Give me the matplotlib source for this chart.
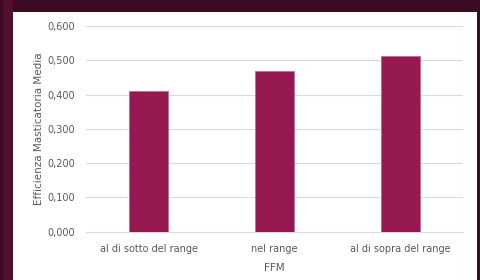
import matplotlib.pyplot as plt
from matplotlib.patches import Rectangle
from matplotlib.ticker import FuncFormatter

categories = ['al di sotto del range', 'nel range', 'al di sopra del range']
values = [0.410, 0.469, 0.513]
yticks = [0.0, 0.1, 0.2, 0.3, 0.4, 0.5, 0.6]

W, H = 481, 280
fig = plt.figure(figsize=(W / 100, H / 100), dpi=100)
fig.patch.set_facecolor('#3c0a22')

# dark frame with slightly lighter left strip, white slide area
fig.patches.append(Rectangle((3 / W, 0), 10 / W, 1, transform=fig.transFigure,
                             facecolor='#510f30', edgecolor='none', zorder=-2))
fig.patches.append(Rectangle((13 / W, 0), (477 - 13) / W, (H - 12) / H,
                             transform=fig.transFigure, facecolor='white',
                             edgecolor='none', zorder=-1))

ax = fig.add_axes([86 / W, (H - 231.7) / H, (463 - 86) / W, (231.7 - 26) / H])
ax.set_zorder(2)
ax.set_facecolor('none')

ax.bar(range(len(categories)), values, width=0.31, color='#951850',
       edgecolor='#c06a90', linewidth=0.6, zorder=3)

ax.set_xlim(-0.5, 2.5)
ax.set_ylim(0, 0.6)
ax.set_yticks(yticks)
ax.yaxis.set_major_formatter(FuncFormatter(lambda v, p: f'{v:.3f}'.replace('.', ',')))
ax.set_xticks(range(len(categories)))
ax.set_xticklabels(categories)
ax.grid(axis='y', color='#d9d9d9', linewidth=0.8, zorder=0)
for s in ax.spines.values():
    s.set_visible(False)
ax.spines['bottom'].set_visible(True)
ax.spines['bottom'].set_color('#d9d9d9')
ax.tick_params(length=0, labelsize=7, colors='#595959', pad=8)
ax.tick_params(axis='x', pad=8.5)

ax.set_ylabel('Efficienza Masticatoria Media', fontsize=7.5, color='#595959', labelpad=2.5)
ax.set_xlabel('FFM', fontsize=7.5, color='#595959', labelpad=7)

plt.savefig('out.png', dpi=100, facecolor=fig.get_facecolor())
